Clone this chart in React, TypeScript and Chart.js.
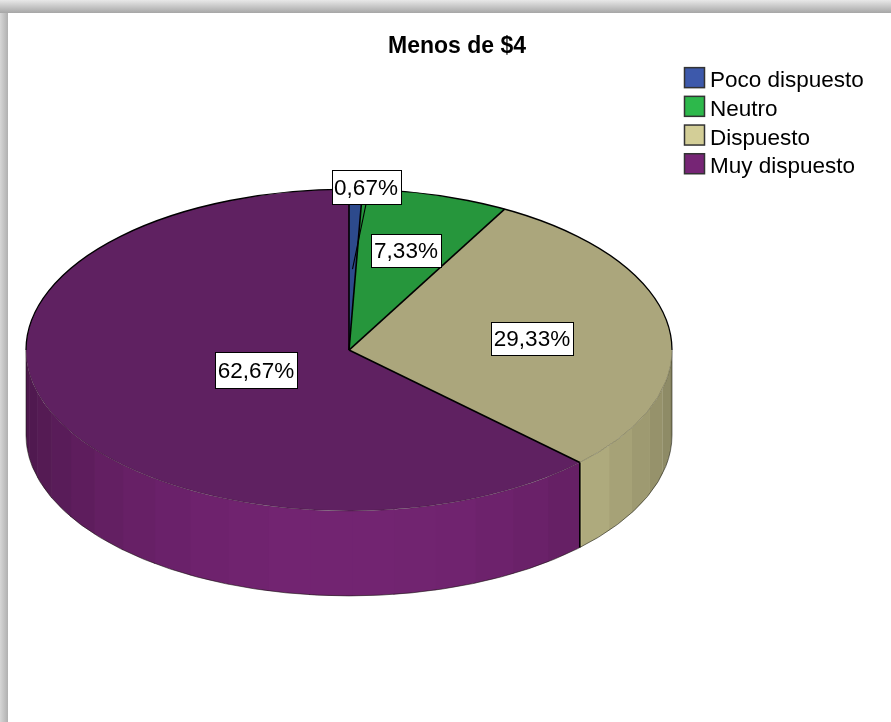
import React, { useEffect, useRef } from "react";
import { Chart, registerables, layouts } from "chart.js";

Chart.register(...registerables);

const titleText = "Menos de $4";
const categories = ["Poco dispuesto", "Neutro", "Dispuesto", "Muy dispuesto"];
const percentages = [0.67, 7.33, 29.33, 62.67];
const percentLabels = ["0,67%", "7,33%", "29,33%", "62,67%"];
const legendColors = ["#3d59ab", "#2db84b", "#d3ce97", "#762575"];
const faceColors = ["#2d4a8c", "#26963c", "#aba67c", "#5f2161"];
// label centre relative to pie centre, and box size
const labelCentres = [[17, -163], [57, -100], [183, -12], [-93, 20]];
const labelSizes = [[69, 34], [70, 33], [82, 33], [82, 36]];

const W = 891;
const H = 722;
const FONT = '"Liberation Sans", Arial, sans-serif';
const SQUASH = 0.498;
const DEPTH = 85;
const BAND = (7.5 * Math.PI) / 180;

function shade(hex: string, f: number) {
  const n = parseInt(hex.slice(1), 16);
  const c = [(n >> 16) & 255, (n >> 8) & 255, n & 255].map((v) => Math.round(v * f));
  return `rgb(${c[0]},${c[1]},${c[2]})`;
}

const framePlugin = {
  id: "frame",
  beforeDraw(chart: any) {
    const ctx = chart.ctx;
    ctx.save();
    let g = ctx.createLinearGradient(0, 0, 0, 13);
    g.addColorStop(0, "#e8e8e8");
    g.addColorStop(1, "#a6a6a6");
    ctx.fillStyle = g;
    ctx.fillRect(0, 0, W, 13);
    g = ctx.createLinearGradient(0, 0, 8, 0);
    g.addColorStop(0, "#d6d6d6");
    g.addColorStop(1, "#b0b0b0");
    ctx.fillStyle = g;
    ctx.fillRect(0, 13, 8, H - 13);
    ctx.restore();
  },
};

const legendBoxPlugin = {
  id: "legendBox",
  beforeInit(chart: any) {
    const box: any = {
      position: "right",
      weight: 0,
      fullSize: false,
      options: {},
      width: 216,
      height: 0,
      isHorizontal: () => false,
      update(_w: number, h: number) {
        box.width = 216;
        box.height = h;
      },
      draw() {
        const ctx = chart.ctx;
        ctx.save();
        ctx.font = `22.5px ${FONT}`;
        ctx.textBaseline = "middle";
        categories.forEach((name, i) => {
          const y = box.top + 7 + i * 28.7;
          ctx.fillStyle = legendColors[i];
          ctx.fillRect(box.left + 12.5, y + 0.5, 20, 20);
          ctx.strokeStyle = "#333333";
          ctx.lineWidth = 1.5;
          ctx.strokeRect(box.left + 12.5, y + 0.5, 20, 20);
          ctx.fillStyle = "#000";
          ctx.fillText(name, box.left + 38, y + 14);
        });
        ctx.restore();
      },
    };
    layouts.addBox(chart, box);
  },
};

const pie3dPlugin = {
  id: "pie3d",
  beforeDatasetsDraw(chart: any) {
    const ctx = chart.ctx;
    const arcs = chart.getDatasetMeta(0).data;
    const { x: cx, y: cy, outerRadius: R } = arcs[0];
    const ry = R * SQUASH;
    ctx.save();
    arcs.forEach((arc: any, i: number) => {
      for (let a = arc.startAngle; a < arc.endAngle - 1e-6; a += BAND) {
        const s = Math.max(a, 0);
        // each band runs a little under the next one, so no seams show
        const e = Math.min(a + BAND + 0.004, arc.endAngle, Math.PI);
        if (e <= s) continue;
        const mid = a + BAND / 2;
        const f = 0.64 + 0.33 * Math.pow(Math.max(Math.sin(mid), 0), 1.3);
        ctx.beginPath();
        ctx.ellipse(cx, cy, R, ry, 0, s, e);
        ctx.ellipse(cx, cy + DEPTH, R, ry, 0, e, s, true);
        ctx.closePath();
        ctx.fillStyle = shade(legendColors[i], f);
        ctx.fill();
      }
    });
    // outline of the wall
    ctx.strokeStyle = "rgba(20,20,10,0.7)";
    ctx.lineWidth = 0.8;
    ctx.beginPath();
    ctx.moveTo(cx + R, cy);
    ctx.lineTo(cx + R, cy + DEPTH);
    ctx.ellipse(cx, cy + DEPTH, R, ry, 0, 0, Math.PI);
    ctx.lineTo(cx - R, cy);
    ctx.stroke();
    ctx.restore();
    // top face: the library draws the arcs on a squashed canvas
    ctx.save();
    ctx.translate(cx, cy);
    ctx.scale(1, SQUASH);
    ctx.translate(-cx, -cy);
  },
  afterDatasetsDraw(chart: any) {
    const ctx = chart.ctx;
    ctx.restore();
    const arcs = chart.getDatasetMeta(0).data;
    const { x: cx, y: cy, outerRadius: R } = arcs[0];
    const ry = R * SQUASH;
    ctx.save();
    // thin rim between the top face and the wall
    ctx.strokeStyle = "rgba(30,30,15,0.45)";
    ctx.lineWidth = 0.6;
    ctx.beginPath();
    ctx.ellipse(cx, cy, R, ry, 0, 0, Math.PI);
    ctx.stroke();
    // black back rim
    ctx.strokeStyle = "#000";
    ctx.lineWidth = 1.3;
    ctx.beginPath();
    ctx.ellipse(cx, cy, R, ry, 0, Math.PI, 2 * Math.PI);
    ctx.stroke();
    // radial edges
    ctx.lineWidth = 1.6;
    arcs.forEach((arc: any) => {
      const a = arc.startAngle;
      ctx.beginPath();
      ctx.moveTo(cx, cy);
      ctx.lineTo(cx + R * Math.cos(a), cy + ry * Math.sin(a));
      ctx.stroke();
    });
    // edge between the slices down the wall
    arcs.forEach((arc: any) => {
      const a = arc.startAngle;
      if (Math.sin(a) > 0) {
        const x = cx + R * Math.cos(a);
        const y = cy + ry * Math.sin(a);
        ctx.beginPath();
        ctx.moveTo(x, y);
        ctx.lineTo(x, y + DEPTH);
        ctx.stroke();
      }
    });
    // leader line of the smallest slice
    ctx.lineWidth = 1.1;
    ctx.beginPath();
    ctx.moveTo(cx + labelCentres[0][0], cy + labelCentres[0][1] + labelSizes[0][1] / 2);
    ctx.lineTo(cx + 3.5, cy - 81);
    ctx.stroke();
    // value labels
    ctx.font = `22.5px ${FONT}`;
    ctx.textAlign = "center";
    ctx.textBaseline = "middle";
    percentLabels.forEach((t, i) => {
      const x = cx + labelCentres[i][0];
      const y = cy + labelCentres[i][1];
      const [w, h] = labelSizes[i];
      const lx = Math.round(x - w / 2) + 0.5;
      const ly = Math.round(y - h / 2) + 0.5;
      ctx.fillStyle = "#fff";
      ctx.fillRect(lx, ly, w, h);
      ctx.strokeStyle = "#000";
      ctx.lineWidth = 1;
      ctx.strokeRect(lx, ly, w, h);
      ctx.fillStyle = "#000";
      ctx.fillText(t, x, y + 2);
    });
    ctx.restore();
  },
};

export default function App() {
  const ref = useRef<HTMLCanvasElement>(null);
  useEffect(() => {
    const chart = new Chart(ref.current as HTMLCanvasElement, {
      type: "pie",
      data: {
        labels: categories,
        datasets: [
          {
            data: percentages,
            backgroundColor: faceColors,
            borderWidth: 0,
            radius: 323,
            clip: false,
          } as any,
        ],
      },
      options: {
        animation: false,
        responsive: false,
        events: [],
        layout: { padding: { left: 26, right: 3, top: 33, bottom: 82 } },
        plugins: {
          legend: { display: false },
          tooltip: { enabled: false },
          title: {
            display: true,
            text: titleText,
            color: "#000",
            padding: 0,
            font: { family: FONT, size: 23, weight: "bold", lineHeight: 1.18 },
          },
        },
      },
      plugins: [framePlugin, legendBoxPlugin, pie3dPlugin],
    } as any);
    return () => chart.destroy();
  }, []);
  return (
    <div style={{ position: "absolute", left: 0, top: 0, width: W, height: H, background: "#fff" }}>
      <canvas ref={ref} width={W} height={H} style={{ display: "block" }} />
    </div>
  );
}
